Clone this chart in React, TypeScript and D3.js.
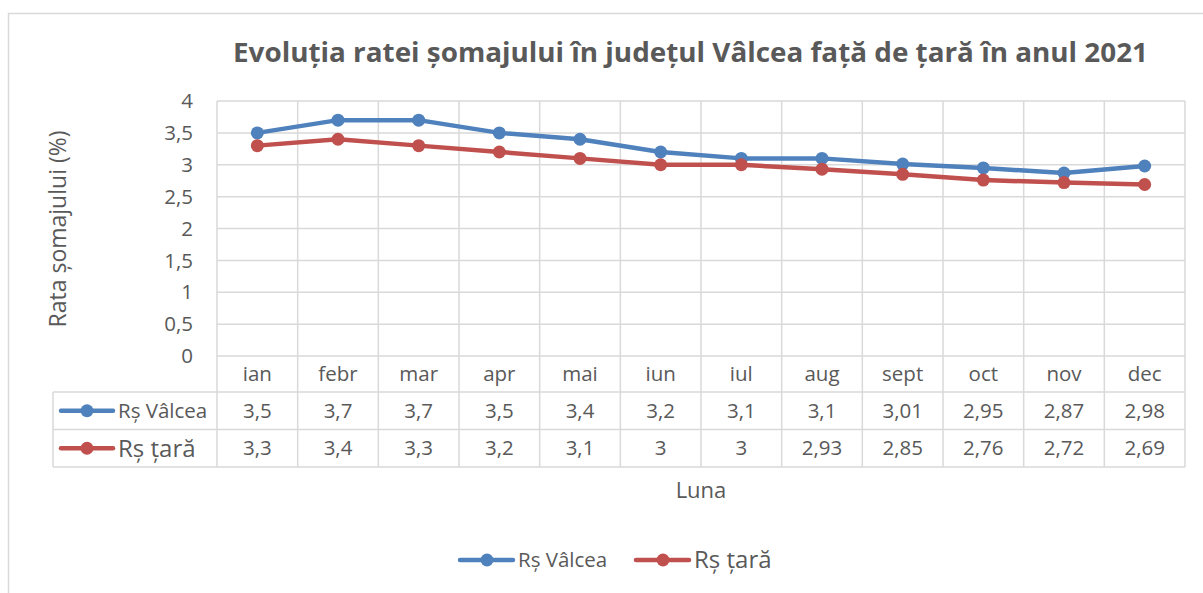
import * as d3 from 'd3';
import React, { useEffect, useRef } from 'react';

const months = ['ian', 'febr', 'mar', 'apr', 'mai', 'iun', 'iul', 'aug', 'sept', 'oct', 'nov', 'dec'];
const valcea = [3.5, 3.7, 3.7, 3.5, 3.4, 3.2, 3.1, 3.1, 3.01, 2.95, 2.87, 2.98];
const tara = [3.3, 3.4, 3.3, 3.2, 3.1, 3, 3, 2.93, 2.85, 2.76, 2.72, 2.69];
const yTicks = [0, 0.5, 1, 1.5, 2, 2.5, 3, 3.5, 4];
const seriesNames = ['Rș Vâlcea', 'Rș țară'];
const seriesColors = ['#4F81BD', '#C0504D'];

const fmt = (v: number) => String(v).replace('.', ',');

export default function App() {
  const ref = useRef<SVGSVGElement>(null);

  useEffect(() => {
    const svg = d3.select(ref.current);
    svg.selectAll('*').remove();

    const W = 1203, H = 593;
    const left = 217, right = 1185, top = 101, bottom = 356;
    const tableLeft = 53, tableTop = 392, rowH = 37.5;
    const grid = '#D9D9D9', txt = '#595959';
    const font = 'Open Sans, Liberation Sans, sans-serif';
    const fs = '20.5px';

    svg.append('rect').attr('width', W).attr('height', H).attr('fill', '#fff');
    // chart frame
    svg.append('rect').attr('x', 8.5).attr('y', 13.5).attr('width', W + 20).attr('height', H + 20)
      .attr('fill', 'none').attr('stroke', grid).attr('stroke-width', 1.5);

    const x = d3.scaleBand().domain(months).range([left, right]);
    const y = d3.scaleLinear().domain([0, 4]).range([bottom, top]);

    const series = [valcea, tara];
    const tableBottom = tableTop + rowH * series.length;

    // horizontal gridlines
    svg.append('g').selectAll('line').data(yTicks).enter().append('line')
      .attr('x1', left).attr('x2', right)
      .attr('y1', d => y(d)).attr('y2', d => y(d))
      .attr('stroke', grid).attr('stroke-width', 1.5);

    // vertical gridlines through the table
    const edges = months.map(m => x(m) as number).concat([right]);
    svg.append('g').selectAll('line').data(edges).enter().append('line')
      .attr('x1', d => d).attr('x2', d => d)
      .attr('y1', top).attr('y2', tableBottom)
      .attr('stroke', grid).attr('stroke-width', 1.5);

    // table horizontal lines
    [0, 1, 2].forEach(i => {
      svg.append('line').attr('x1', tableLeft).attr('x2', right)
        .attr('y1', tableTop + i * rowH).attr('y2', tableTop + i * rowH)
        .attr('stroke', grid).attr('stroke-width', 1.5);
    });
    svg.append('line').attr('x1', tableLeft).attr('x2', tableLeft)
      .attr('y1', tableTop).attr('y2', tableBottom)
      .attr('stroke', grid).attr('stroke-width', 1.5);

    // y tick labels
    svg.append('g').selectAll('text').data(yTicks).enter().append('text')
      .attr('x', 193).attr('y', d => y(d)).attr('dy', '0.35em')
      .attr('text-anchor', 'end').attr('fill', txt)
      .style('font-family', font).style('font-size', fs)
      .text(d => fmt(d));

    // month labels
    svg.append('g').selectAll('text').data(months).enter().append('text')
      .attr('x', d => (x(d) as number) + x.bandwidth() / 2).attr('y', 374).attr('dy', '0.35em')
      .attr('text-anchor', 'middle').attr('fill', txt)
      .style('font-family', font).style('font-size', fs)
      .text(d => d);

    // lines and markers
    const line = d3.line<number>()
      .x((d, i) => (x(months[i]) as number) + x.bandwidth() / 2)
      .y(d => y(d));

    series.forEach((s, si) => {
      svg.append('path').datum(s).attr('d', line)
        .attr('fill', 'none').attr('stroke', seriesColors[si]).attr('stroke-width', 4.5)
        .attr('stroke-linejoin', 'round').attr('stroke-linecap', 'round');
      svg.append('g').selectAll('circle').data(s).enter().append('circle')
        .attr('cx', (d, i) => (x(months[i]) as number) + x.bandwidth() / 2)
        .attr('cy', d => y(d)).attr('r', 6.5).attr('fill', seriesColors[si]);

      const ry = tableTop + rowH * si + rowH / 2;
      // table values
      svg.append('g').selectAll('text').data(s).enter().append('text')
        .attr('x', (d, i) => (x(months[i]) as number) + x.bandwidth() / 2).attr('y', ry).attr('dy', '0.35em')
        .attr('text-anchor', 'middle').attr('fill', txt)
        .style('font-family', font).style('font-size', fs)
        .text(d => fmt(d));
      // table legend key
      svg.append('line').attr('x1', 61).attr('x2', 113).attr('y1', ry).attr('y2', ry)
        .attr('stroke', seriesColors[si]).attr('stroke-width', 4.5).attr('stroke-linecap', 'round');
      svg.append('circle').attr('cx', 87).attr('cy', ry).attr('r', 6.5).attr('fill', seriesColors[si]);
      svg.append('text').attr('x', 118).attr('y', ry).attr('dy', '0.35em').attr('fill', txt)
        .style('font-family', font).style('font-size', si === 0 ? fs : '24px')
        .text(seriesNames[si]);
    });

    // bottom legend
    const legX = [459, 635];
    seriesNames.forEach((n, i) => {
      const ly = 560;
      svg.append('line').attr('x1', legX[i] + 1).attr('x2', legX[i] + 54).attr('y1', ly).attr('y2', ly)
        .attr('stroke', seriesColors[i]).attr('stroke-width', 4.5).attr('stroke-linecap', 'round');
      svg.append('circle').attr('cx', legX[i] + 28).attr('cy', ly).attr('r', 6.5).attr('fill', seriesColors[i]);
      svg.append('text').attr('x', legX[i] + 59).attr('y', ly).attr('dy', '0.35em').attr('fill', txt)
        .style('font-family', font).style('font-size', i === 0 ? fs : '24px')
        .text(n);
    });

    // axis titles
    svg.append('text').attr('x', 701).attr('y', 490).attr('dy', '0.35em')
      .attr('text-anchor', 'middle').attr('fill', txt)
      .style('font-family', font).style('font-size', '22px').text('Luna');
    svg.append('text').attr('transform', 'translate(58,229) rotate(-90)').attr('dy', '0.35em')
      .attr('text-anchor', 'middle').attr('fill', txt)
      .style('font-family', font).style('font-size', '23px').text('Rata șomajului (%)');

    // title
    svg.append('text').attr('x', 233).attr('y', 62)
      .attr('text-anchor', 'start').attr('fill', txt)
      .attr('textLength', 915).attr('lengthAdjust', 'spacingAndGlyphs')
      .style('font-family', font).style('font-weight', 'bold').style('font-size', '26px')
      .text('Evoluția ratei șomajului în județul Vâlcea față de țară în anul 2021');
  }, []);

  return (
    <svg ref={ref} width={1203} height={593} style={{ position: 'absolute', left: 0, top: 0 }}></svg>
  );
}
